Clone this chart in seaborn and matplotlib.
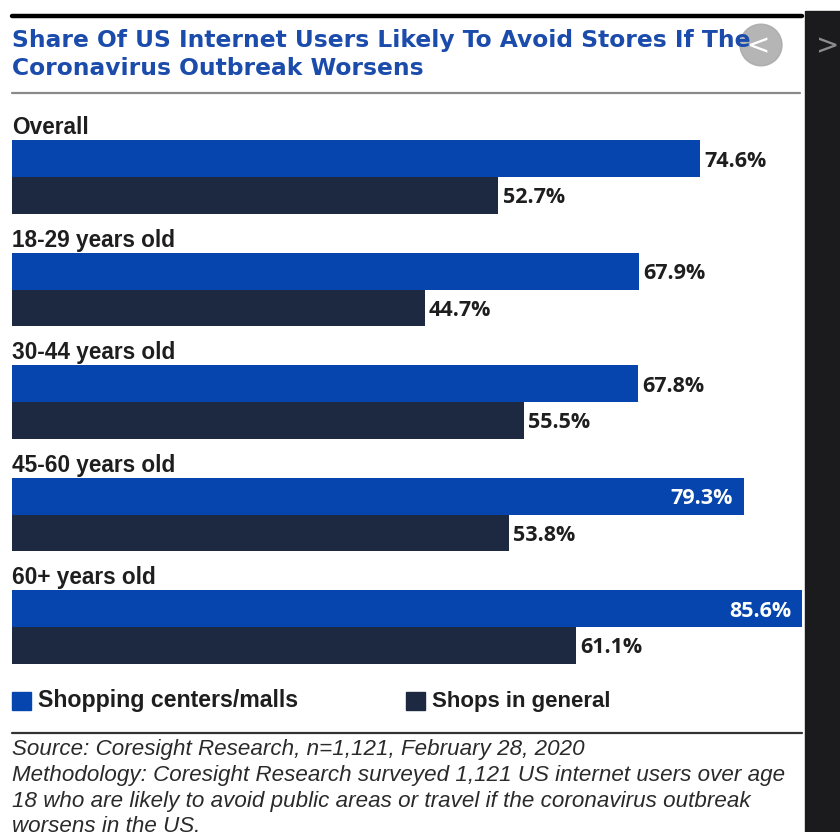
import matplotlib
matplotlib.use("Agg")
import matplotlib.pyplot as plt
import seaborn as sns
import pandas as pd
from matplotlib.patches import Circle, Rectangle
from matplotlib.lines import Line2D

# ---- data ----
groups = ["Overall", "18-29 years old", "30-44 years old", "45-60 years old", "60+ years old"]
series_names = ["Shopping centers/malls", "Shops in general"]
malls = [74.6, 67.9, 67.8, 79.3, 85.6]
shops = [52.7, 44.7, 55.5, 53.8, 61.1]

title_lines = ["Share Of US Internet Users Likely To Avoid Stores If The",
               "Coronavirus Outbreak Worsens"]
footer = ["Source: Coresight Research, n=1,121, February 28, 2020",
          "Methodology: Coresight Research surveyed 1,121 US internet users over age",
          "18 who are likely to avoid public areas or travel if the coronavirus outbreak",
          "worsens in the US."]

BLUE = "#0645ad"
NAVY = "#1c2940"
TITLE_BLUE = "#1b4cac"
TXT = "#1e1e1e"

df = pd.DataFrame({
    "group": groups * 2,
    "value": malls + shops,
    "series": [series_names[0]] * len(groups) + [series_names[1]] * len(groups),
})

sns.set_theme(style="white")
plt.rcParams["font.family"] = ["Liberation Sans", "DejaVu Sans"]

W, H = 840, 832
fig = plt.figure(figsize=(W / 100, H / 100), dpi=100)
fig.patch.set_facecolor("white")
renderer = fig.canvas.get_renderer()


def fx(px):
    return px / W


def fy(py):
    return 1 - py / H


def fit(txt, target_px):
    bb = txt.get_window_extent(renderer)
    txt.set_fontsize(txt.get_fontsize() * target_px / bb.width)
    return txt.get_fontsize()


# axes: x pixel 12..802 => 0..85.6 ; y pixel = 177 + 112.5*data
ax_top, ax_bot = 110, 690
ax = fig.add_axes([fx(12), fy(ax_bot), (802 - 12) / W, (ax_bot - ax_top) / H])
bw = 0.649
sns.barplot(data=df, y="group", x="value", hue="series", orient="h",
            palette=[BLUE, NAVY], saturation=1, width=bw, dodge=True,
            linewidth=0, legend=False, ax=ax)
ax.set_xlim(0, 85.6)
ax.set_ylim((ax_bot - 177) / 112.5, (ax_top - 177) / 112.5)
ax.axis("off")

# value labels
for cont, vals in zip(ax.containers, [malls, shops]):
    for patch, v in zip(cont.patches, vals):
        yc = patch.get_y() + patch.get_height() / 2
        end = patch.get_x() + patch.get_width()
        if v > 75:
            ax.text(end - 1.2, yc, f"{v:.1f}%", ha="right", va="center_baseline",
                    color="white", fontsize=15.5, fontweight="bold", family="Open Sans")
        else:
            ax.text(end + 0.45, yc, f"{v:.1f}%", ha="left", va="center_baseline",
                    color=TXT, fontsize=15.5, fontweight="bold", family="Open Sans")

# category labels
for i, g in enumerate(groups):
    ax.text(0, i - bw / 2 - 6 / 112.5, g, ha="left", va="baseline",
            fontsize=16.3, fontweight="bold", color=TXT)

# title and rules
fig.add_artist(Line2D([fx(12), fx(802)], [fy(15.5), fy(15.5)], color="black", lw=3.2))
t1 = fig.text(fx(12), fy(47), title_lines[0], ha="left", va="baseline", fontsize=17,
              fontweight="bold", color=TITLE_BLUE, family="DejaVu Sans")
fs = fit(t1, 740)
fig.text(fx(12), fy(75), title_lines[1], ha="left", va="baseline", fontsize=fs,
         fontweight="bold", color=TITLE_BLUE, family="DejaVu Sans")
fig.add_artist(Line2D([fx(12), fx(800)], [fy(92.5), fy(92.5)], color="#8a8a8a", lw=1.6))

# legend
for x0, c, lab, tw in [(12, BLUE, series_names[0], 260), (406, NAVY, series_names[1], 179)]:
    fig.add_artist(Rectangle((fx(x0), fy(710)), 19 / W, 18 / H, color=c,
                             transform=fig.transFigure))
    lt = fig.text(fx(x0 + 26), fy(701), lab, ha="left", va="center", fontsize=16,
                  fontweight="bold", color=TXT)
    fit(lt, tw)

fig.add_artist(Line2D([fx(12), fx(802)], [fy(733), fy(733)], color="#333333", lw=1.6))

ft = []
for k, line in enumerate(footer):
    ft.append(fig.text(fx(12), fy(749 + 26 * k), line, ha="left", va="center",
                       fontsize=16, style="italic", color="#2a2a2a"))
ffs = fit(ft[1], 771)
for t in ft:
    t.set_fontsize(ffs)

# right side carousel UI
fig.add_artist(Rectangle((fx(805), 0), 35 / W, fy(11), color="#1b1b1d",
                         transform=fig.transFigure))
fig.text(fx(828), fy(46), ">", ha="center", va="center", fontsize=20,
         color="#8c8c8c", family="DejaVu Sans")
fig.add_artist(Circle((fx(761), fy(45)), 21 / W, color="#a8a8a8", alpha=0.85,
                      transform=fig.transFigure))
fig.text(fx(759), fy(46), "<", ha="center", va="center", fontsize=20,
         color="white", family="DejaVu Sans")

fig.savefig("out.png", dpi=100, facecolor="white")
